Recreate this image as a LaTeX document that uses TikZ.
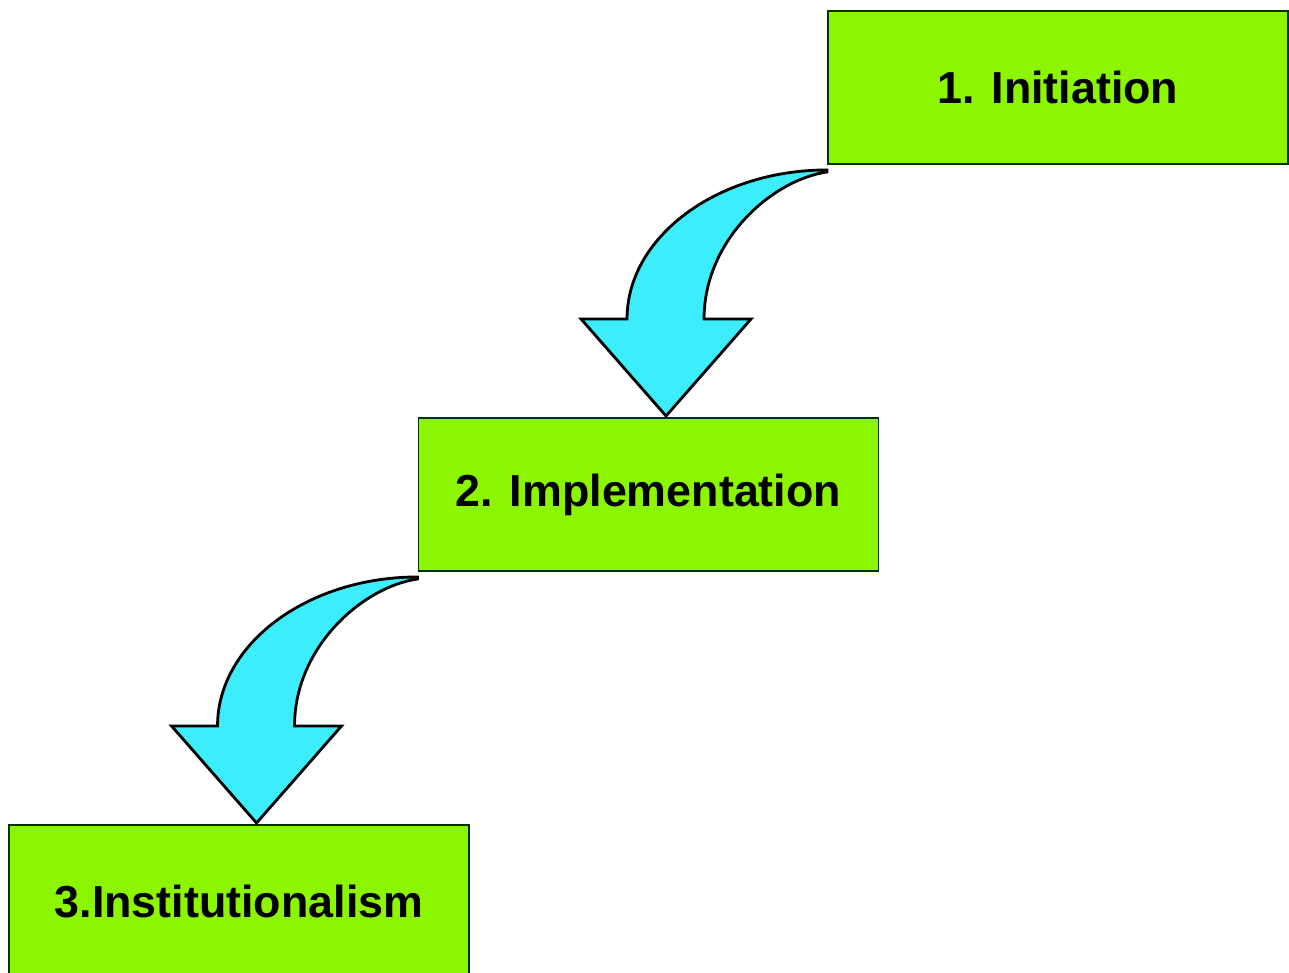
\documentclass[tikz,border=0pt]{standalone}
\usepackage{fontspec}
\setmainfont{Liberation Sans}
\usepackage{tikz}
\usepackage{color}
\usetikzlibrary{calc}
\definecolor{boxGreen}{RGB}{140,246,0}
\definecolor{arrowCyan}{RGB}{60,238,252}
\tikzset{
  stepBox/.style={draw=black!80!green,line width=1.1pt,fill=boxGreen,rectangle,
    minimum width=9.2cm,minimum height=3.06cm,inner sep=0pt,
    font=\fontsize{25.5}{30}\selectfont\bfseries},
  stepArrow/.style={draw=black,line width=1.6pt,fill=arrowCyan,line join=miter}
}
\newcommand{\tikzStepArrow}[2]{
  \begin{scope}[shift={(#1.south west)}]
  \path[stepArrow] (0,-0.1) .. controls (-2.2,-0.1) and (-4,-1.44) .. (-4,-3.08)
    -- (-4.92,-3.08) -- (-3.22,-5.02) coordinate (#2) -- (-1.52,-3.08) -- (-2.46,-3.08)
    .. controls (-2.46,-1.5) and (-1.1,-0.3) .. (0,-0.14) -- cycle;
  \end{scope}
}

\begin{document}
\begin{tikzpicture}
  \useasboundingbox (0,0) rectangle (25.78,-19.46);

  \node [stepBox] (init) at (21.16,-1.75) {1. Initiation};
  \node [stepBox] (impl) at (12.97,-9.89) {2. Implementation};
  \node [stepBox] (inst) at (4.78,-18.03) {3.Institutionalism};

  \tikzStepArrow{init}{tipImpl}
  \tikzStepArrow{impl}{tipInst}

\end{tikzpicture}
\end{document}
